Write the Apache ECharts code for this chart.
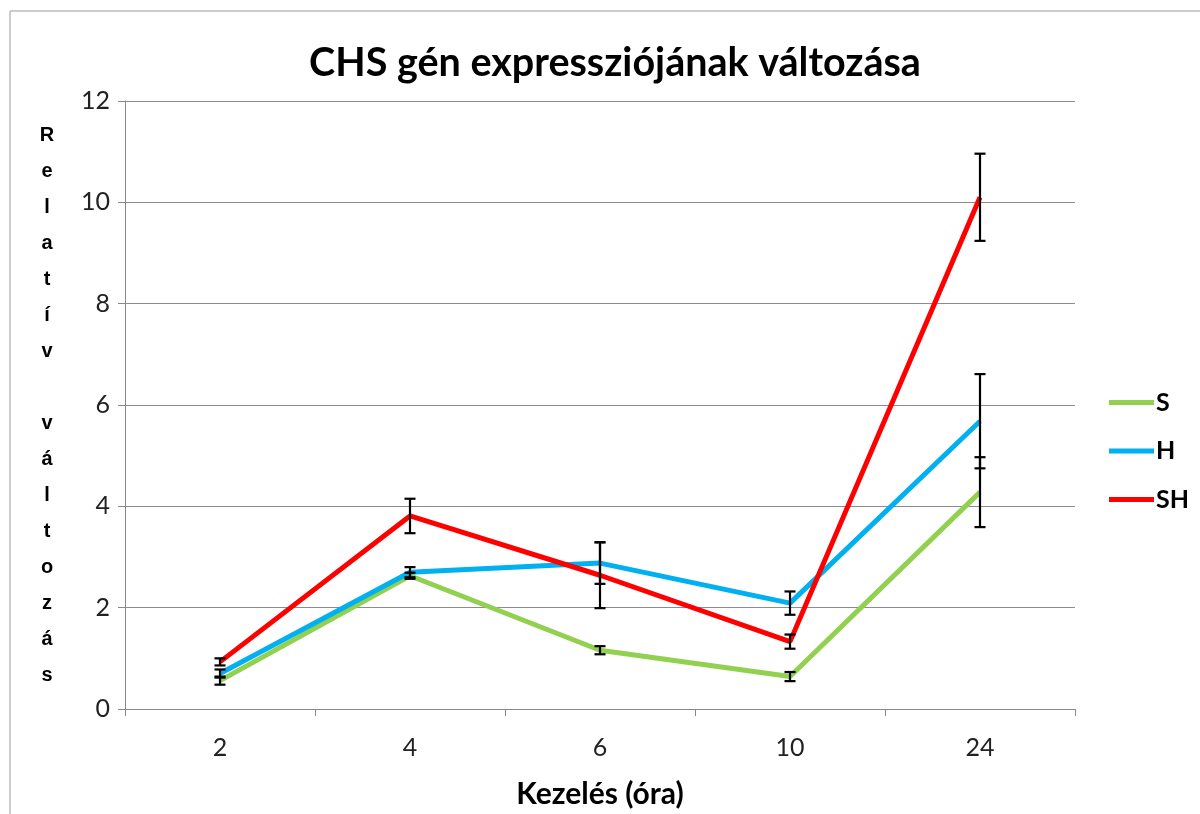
<!DOCTYPE html>
<html>
<head>
<meta charset="utf-8">
<script src="https://cdn.jsdelivr.net/npm/echarts@6/dist/echarts.min.js"></script>
<style>
  html, body { margin: 0; padding: 0; background: #fff; }
  #chart { width: 1200px; height: 814px; }
</style>
</head>
<body>
<div id="chart"></div>
<script>
// adatok
const categories = ['2', '4', '6', '10', '24'];
const valS = [0.56, 2.63, 1.16, 0.64, 4.28];
const valH = [0.70, 2.70, 2.88, 2.09, 5.68];
const valSH = [0.93, 3.81, 2.64, 1.33, 10.1];
const errS = [0.08, 0.06, 0.08, 0.09, 0.69];
const errH = [0.08, 0.10, 0.41, 0.23, 0.93];
const errSH = [0.07, 0.34, 0.65, 0.14, 0.86];
const yTicks = [0, 2, 4, 6, 8, 10, 12];

const colS = '#92D050';
const colH = '#00B0F0';
const colSH = '#FF0000';

function errData(vals, errs) {
    return vals.map((v, i) => [i, v - errs[i], v + errs[i]]);
}

// hibasávok rajzolása
function renderErr(params, api) {
    const x = api.value(0);
    const lo = api.coord([x, api.value(1)]);
    const hi = api.coord([x, api.value(2)]);
    const w = 5.5;
    const st = { stroke: '#000', lineWidth: 2.2 };
    return {
        type: 'group',
        children: [
            { type: 'line', shape: { x1: hi[0], y1: hi[1], x2: lo[0], y2: lo[1] }, style: st },
            { type: 'line', shape: { x1: hi[0] - w, y1: hi[1], x2: hi[0] + w, y2: hi[1] }, style: st },
            { type: 'line', shape: { x1: lo[0] - w, y1: lo[1], x2: lo[0] + w, y2: lo[1] }, style: st }
        ]
    };
}

const myChart = echarts.init(document.getElementById('chart'));

const option = {
    backgroundColor: '#fff',
    animation: false,
    title: {
        text: 'CHS gén expressziójának változása',
        left: 610,
        textAlign: 'center',
        top: 38,
        textStyle: { fontFamily: 'Lato', fontWeight: 'bold', fontSize: 39.5, color: '#000' }
    },
    legend: {
        orient: 'vertical',
        left: 1104,
        top: 385,
        icon: 'rect',
        itemWidth: 45,
        itemHeight: 5,
        itemGap: 23.5,
        data: ['S', 'H', 'SH'],
        textStyle: { fontFamily: 'Lato', fontWeight: 'bold', fontSize: 25, color: '#000', padding: [0, 0, 0, -3] }
    },
    grid: { left: 125, right: 125, top: 101, bottom: 105, outerBoundsMode: 'none' },
    xAxis: {
        type: 'category',
        data: categories,
        boundaryGap: true,
        name: 'Kezelés (óra)',
        nameLocation: 'middle',
        nameGap: 70,
        nameTextStyle: { fontFamily: 'Lato', fontWeight: 'bold', fontSize: 30, color: '#000' },
        axisLine: { lineStyle: { color: '#888', width: 1 } },
        axisTick: { show: true, length: 7, lineStyle: { color: '#888' } },
        axisLabel: { fontFamily: 'Lato', fontSize: 25, color: '#222', margin: 26 }
    },
    yAxis: {
        type: 'value',
        min: yTicks[0],
        max: yTicks[yTicks.length - 1],
        interval: 2,
        name: 'Relatív változás'.split('').join('\n'),
        nameLocation: 'middle',
        nameRotate: 0,
        nameGap: 78,
        nameTextStyle: {
            fontFamily: 'Liberation Sans', fontWeight: 'bold', fontSize: 20,
            color: '#000', lineHeight: 36, align: 'center', verticalAlign: 'middle',
            padding: [14, 0, 0, 0]
        },
        axisLine: { show: true, lineStyle: { color: '#888', width: 1 } },
        axisTick: { show: true, length: 7, lineStyle: { color: '#888' } },
        axisLabel: { fontFamily: 'Lato', fontSize: 25, color: '#222', margin: 15 },
        splitLine: { lineStyle: { color: '#8c8c8c', width: 1 } }
    },
    graphic: [
        { type: 'line', shape: { x1: 10, y1: 11, x2: 10, y2: 814 }, style: { stroke: '#bbb', lineWidth: 1.5 } },
        { type: 'line', shape: { x1: 10, y1: 11, x2: 1200, y2: 11 }, style: { stroke: '#bbb', lineWidth: 1.5 } }
    ],
    series: [
        { name: 'S', type: 'line', data: valS, symbol: 'none', lineStyle: { width: 5, color: colS }, itemStyle: { color: colS } },
        { name: 'H', type: 'line', data: valH, symbol: 'none', lineStyle: { width: 5, color: colH }, itemStyle: { color: colH } },
        { name: 'SH', type: 'line', data: valSH, symbol: 'none', lineStyle: { width: 5, color: colSH }, itemStyle: { color: colSH } },
        { name: 'errS', type: 'custom', renderItem: renderErr, data: errData(valS, errS), z: 5 },
        { name: 'errH', type: 'custom', renderItem: renderErr, data: errData(valH, errH), z: 5 },
        { name: 'errSH', type: 'custom', renderItem: renderErr, data: errData(valSH, errSH), z: 5 }
    ]
};

myChart.setOption(option);
window.addEventListener('resize', () => myChart.resize());
</script>
</body>
</html>
